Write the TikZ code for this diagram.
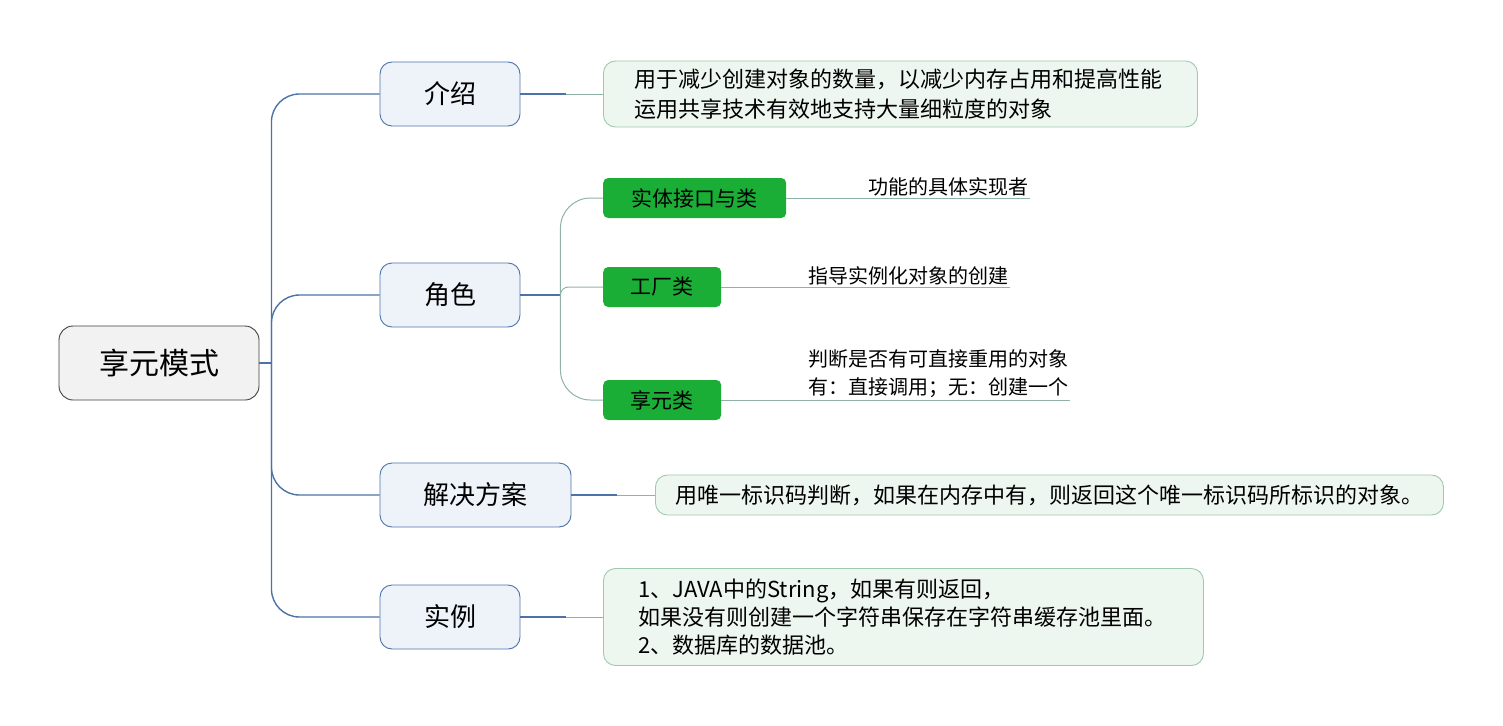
\documentclass[tikz,border=0pt]{standalone}
\usepackage{fontspec}
\setmainfont{Noto Sans CJK SC}
\usetikzlibrary{positioning,calc}
\definecolor{blx}{HTML}{4C73A8}
\definecolor{bfx}{HTML}{EEF3FA}
\definecolor{grx}{HTML}{1BAE37}
\definecolor{gfx}{HTML}{EEF6F0}
\definecolor{gdx}{HTML}{9FC9AC}
\definecolor{gax}{HTML}{8FB3A6}
\tikzset{
    rootbox/.style={draw=black!75,line width=0.9pt,fill=black!5,rounded corners=14pt,minimum width=200pt,minimum height=74pt,font=\fontsize{30}{36}\selectfont},
    topic/.style={draw=blx,line width=0.9pt,fill=bfx,rounded corners=12pt,minimum width=140pt,minimum height=64pt,font=\fontsize{26}{30}\selectfont},
    leaf/.style={fill=grx,rounded corners=5pt,minimum width=118pt,minimum height=40pt,anchor=west,font=\fontsize{21}{24}\selectfont},
    detail/.style={draw=gdx,line width=0.9pt,fill=gfx,rounded corners=12pt,anchor=west,align=left,font=\fontsize{22}{30}\selectfont},
    note/.style={inner sep=2pt,anchor=south west,align=left,font=\fontsize{20}{28}\selectfont},
    bough/.style={blx,line width=1.4pt},
    twig/.style={gax,line width=1pt}
}
\begin{document}
\begin{tikzpicture}[x=1pt,y=-1pt]
    \useasboundingbox (0,0) rectangle (1503,725);
    \node [rootbox] (root) at (159,363) {享元模式};
    \node [topic] (intro) at (450,94) {介绍};
    \node [topic] (role) at (450,295) {角色};
    \node [topic,minimum width=191pt] (plan) at (475.5,495) {解决方案};
    \node [topic] (case) at (450,617) {实例};
    \coordinate [right=12pt of root] (stem);
    \draw [bough] (root.east) -- (stem);
    \foreach \t in {intro,role,plan,case} {
        \draw [bough,rounded corners=28pt] (stem) |- (\t.west);
    }
    % details
    \node [detail,text width=532pt,inner xsep=31pt,minimum height=66pt] (introtext) at (603,94)
        {用于减少创建对象的数量，以减少内存占用和提高性能\\运用共享技术有效地支持大量细粒度的对象};
    \node [detail,minimum width=788pt,minimum height=40pt] (plantext) at (655,495)
        {用唯一标识码判断，如果在内存中有，则返回这个唯一标识码所标识的对象。};
    \node [detail,text width=530pt,inner xsep=35pt,minimum height=97pt,font=\fontsize{22}{28}\selectfont] (casetext) at (603,617)
        {1、JAVA中的String，如果有则返回，\\如果没有则创建一个字符串保存在字符串缓存池里面。\\2、数据库的数据池。};
    \foreach \t/\d in {intro/introtext,plan/plantext,case/casetext} {
        \coordinate (mid) at ($(\t.east)!0.55!(\d.west)$);
        \draw [bough] (\t.east) -- (mid);
        \draw [twig] (mid) -- (\d.west);
    }
    % roles
    \node [leaf,minimum width=183pt] (entity) at (603,198) {实体接口与类};
    \node [leaf] (factory) at (603,287) {工厂类};
    \node [leaf] (flyweight) at (603,400) {享元类};
    \coordinate [right=40pt of role] (fork);
    \draw [bough] (role.east) -- (fork);
    \foreach \t/\r in {entity/30,factory/8,flyweight/30} {
        \draw [twig,rounded corners=\r pt] (fork) |- (\t.west);
    }
    \node [note] (entity-note) at (866,198) {功能的具体实现者};
    \node [note] (factory-note) at (806,287) {指导实例化对象的创建};
    \node [note] (flyweight-note) at (806,400) {判断是否有可直接重用的对象\\有：直接调用；无：创建一个};
    \foreach \t in {entity,factory,flyweight} {
        \draw [twig] (\t.east) -- (\t.east -| \t-note.south east);
    }
\end{tikzpicture}
\end{document}
